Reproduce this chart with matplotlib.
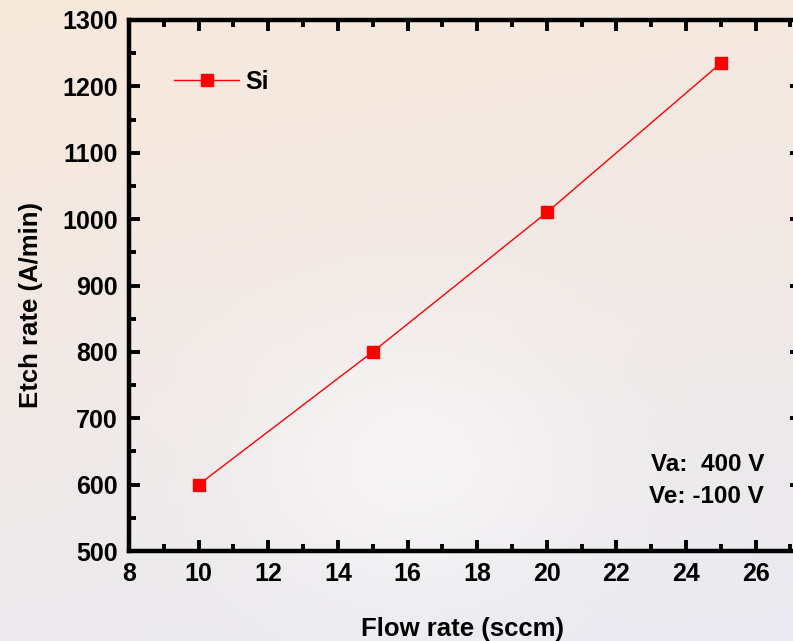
import numpy as np
import matplotlib
matplotlib.use("Agg")
import matplotlib.pyplot as plt
from matplotlib.ticker import MultipleLocator

plt.rcParams['font.family'] = ['Liberation Sans', 'DejaVu Sans']
plt.rcParams['font.weight'] = 'bold'

flow = [10, 15, 20, 25]
etch = [600, 800, 1010, 1235]
series_name = "Si"

fig = plt.figure(figsize=(7.93, 6.41), dpi=100)

# background gradient (approximation of photo backdrop)
bg = fig.add_axes([0, 0, 1, 1], zorder=-10)
h, w = 200, 250
yy, xx = np.mgrid[0:1:h*1j, 0:1:w*1j]
warm = np.array([247, 232, 220]) / 255.0
cool = np.array([234, 234, 240]) / 255.0
white = np.array([250, 249, 250]) / 255.0
t = np.clip(yy * 0.9 + xx * 0.2 - 0.05, 0, 1)[..., None]
img = warm * (1 - t) + cool * t
d = np.exp(-(((xx - 0.52) / 0.22) ** 2 + ((yy - 0.72) / 0.22) ** 2))[..., None]
img = img * (1 - 0.7 * d) + white * 0.7 * d
bg.imshow(img, aspect='auto', extent=[0, 1, 0, 1], origin='upper')
bg.axis('off')

ax = fig.add_axes([0.1627, 0.1404, 0.8373 + 0.01, 0.8284])
ax.patch.set_alpha(0)
ax.plot(flow, etch, color='#ff0000', lw=1.0, marker='s', ms=9, mfc='#ff0000', mec='#ff0000', label=series_name)
ax.set_xlim(8, 27.3)
ax.set_ylim(500, 1300)
ax.xaxis.set_major_locator(MultipleLocator(2))
ax.xaxis.set_minor_locator(MultipleLocator(1))
ax.yaxis.set_major_locator(MultipleLocator(100))
ax.yaxis.set_minor_locator(MultipleLocator(50))
ax.tick_params(which='both', direction='in', top=True, right=True, width=2.8, labelsize=18, pad=8)
ax.tick_params(which='major', length=8)
ax.tick_params(which='minor', length=5)
for s in ax.spines.values():
    s.set_linewidth(3.2)
for lab in ax.get_xticklabels() + ax.get_yticklabels():
    lab.set_fontweight('bold')
ax.set_xlabel('Flow rate (sccm)', fontsize=18.5, fontweight='bold', labelpad=22, x=0.497)
ax.set_ylabel('Etch rate (A/min)', fontsize=18.5, fontweight='bold', labelpad=14, y=0.463)
leg = ax.legend(loc='center left', bbox_to_anchor=(0.067, 0.883), frameon=False, fontsize=18,
                handlelength=2.6, handletextpad=0.25, borderpad=0, borderaxespad=0)
for t_ in leg.get_texts():
    t_.set_fontweight('bold')
ax.text(0.945, 0.132, 'Va:  400 V\nVe: -100 V', transform=ax.transAxes, ha='right', va='center',
        fontsize=17.5, fontweight='bold', linespacing=1.5)

fig.savefig('out.png', dpi=100)
